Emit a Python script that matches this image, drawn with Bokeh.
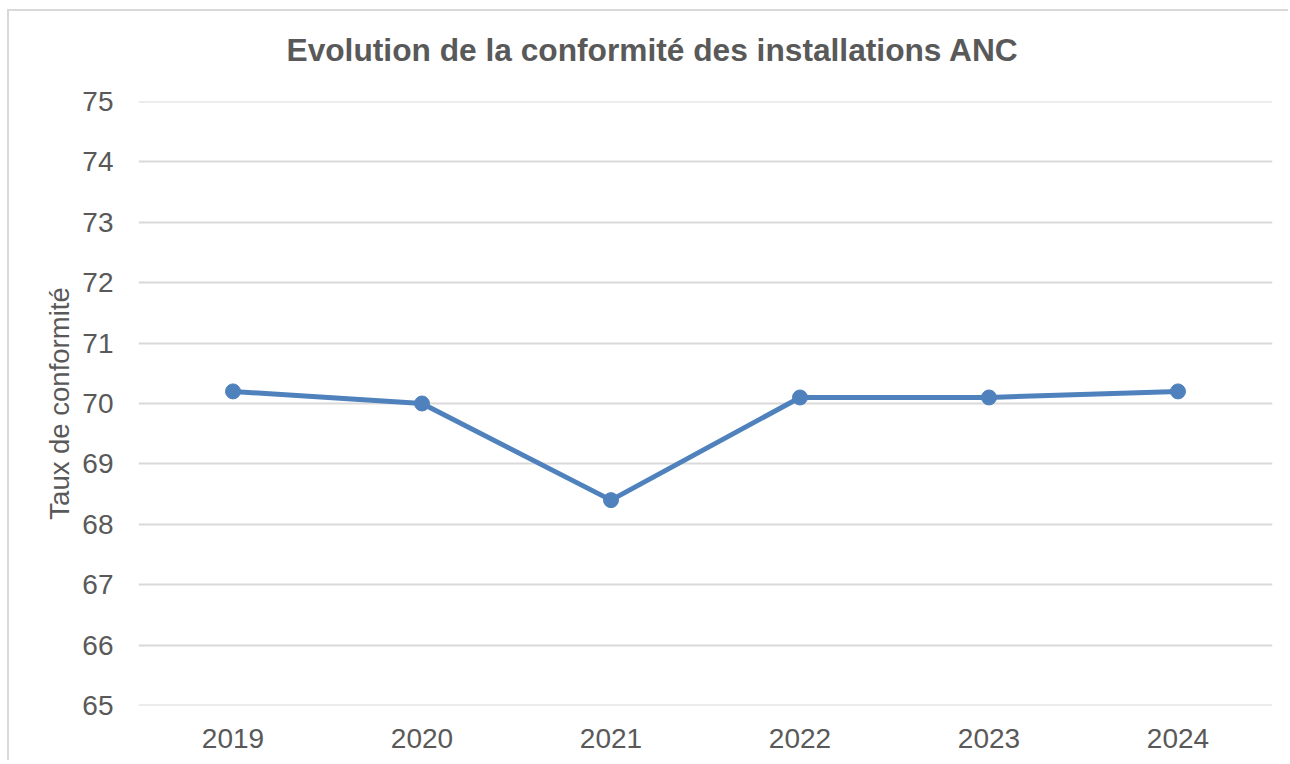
from bokeh.plotting import figure
from bokeh.models import FactorRange, Range1d, FixedTicker, Span, Title
from bokeh.embed import file_html
from bokeh.resources import INLINE

years = ["2019", "2020", "2021", "2022", "2023", "2024"]
taux = [70.2, 70.0, 68.4, 70.1, 70.1, 70.2]
y_ticks = [65, 66, 67, 68, 69, 70, 71, 72, 73, 74, 75]
title_text = "Evolution de la conformité des installations ANC"

TXT = "#595959"
GRID = "#D9D9D9"
BLUE = "#4F81BD"
FONT = "Liberation Sans"

p = figure(width=1281, height=751, output_backend="svg", toolbar_location=None,
           x_range=FactorRange(*years, range_padding=0), y_range=Range1d(65, 75),
           min_border_left=129, min_border_right=18, min_border_top=90, min_border_bottom=57)

p.styles = {"border-left": "2px solid #D9D9D9", "border-top": "2px solid #D9D9D9",
            "border-right": "none", "border-bottom": "none",
            "margin-left": "7px", "margin-top": "9px"}

# spacer between frame and title (nearest to the frame), then the title itself
p.add_layout(Title(text=" ", text_font_size="1px", standoff=31), "above")
p.add_layout(Title(text=title_text, text_font=FONT, text_font_size="31.7px",
                   text_font_style="bold", text_color=TXT, align="left",
                   offset=148, standoff=0), "above")

p.outline_line_color = None
p.background_fill_color = "white"
p.border_fill_color = "white"

p.xgrid.grid_line_color = None
p.ygrid.grid_line_color = GRID
p.ygrid.grid_line_width = 2
p.yaxis.ticker = FixedTicker(ticks=y_ticks)

for loc in (y_ticks[0], y_ticks[-1]):
    p.add_layout(Span(location=loc, dimension="width", line_color=GRID, line_width=2))

for ax in (p.xaxis, p.yaxis):
    ax.axis_line_color = None
    ax.major_tick_line_color = None
    ax.minor_tick_line_color = None
    ax.major_tick_out = 0
    ax.major_tick_in = 0
    ax.major_label_text_font = FONT
    ax.major_label_text_font_size = "28px"
    ax.major_label_text_color = TXT

p.xaxis.major_label_standoff = 23
p.yaxis.major_label_standoff = 25
p.yaxis.axis_label = "Taux de conformité"
p.yaxis.axis_label_text_font = FONT
p.yaxis.axis_label_text_font_size = "27.5px"
p.yaxis.axis_label_text_font_style = "normal"
p.yaxis.axis_label_text_color = TXT
p.yaxis.axis_label_standoff = 4

p.line(years, taux, line_color=BLUE, line_width=5)
p.scatter(years, taux, size=15, fill_color=BLUE, line_color=BLUE)

open("out.html", "w").write(file_html(p, INLINE))
